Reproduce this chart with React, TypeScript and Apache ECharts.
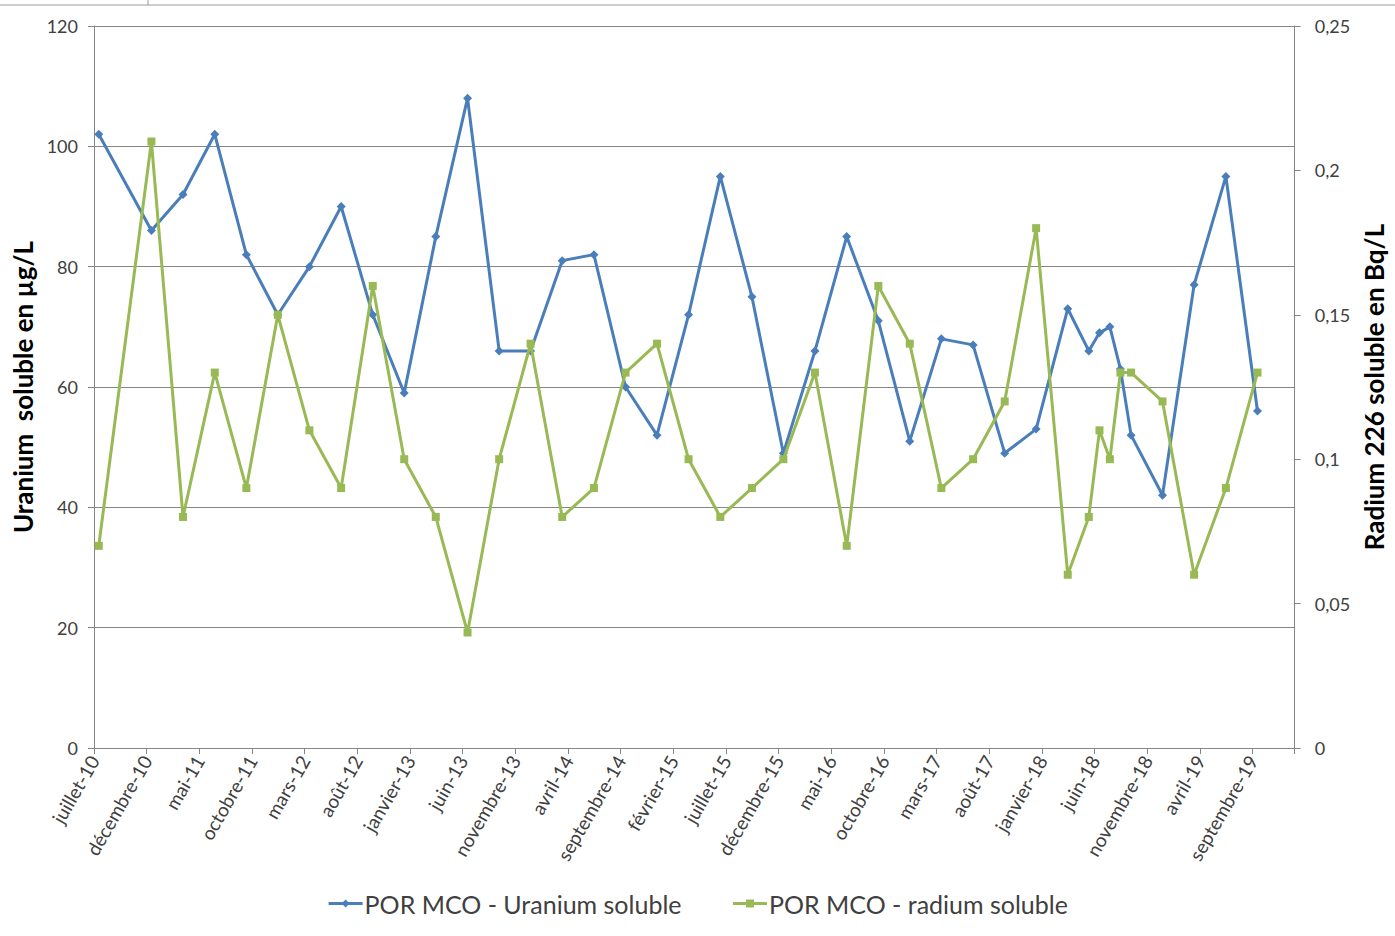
import React, { useEffect, useRef } from "react";
import * as echarts from "echarts";

// Sampling dates (mid-month) for station POR MCO
const sampleDates = [
  "2010-07-15", "2010-12-15", "2011-03-15", "2011-06-15", "2011-09-15",
  "2011-12-15", "2012-03-15", "2012-06-15", "2012-09-15", "2012-12-15",
  "2013-03-15", "2013-06-15", "2013-09-15", "2013-12-15", "2014-03-15",
  "2014-06-15", "2014-09-15", "2014-12-15", "2015-03-15", "2015-06-15",
  "2015-09-15", "2015-12-15", "2016-03-15", "2016-06-15", "2016-09-15",
  "2016-12-15", "2017-03-15", "2017-06-15", "2017-09-15", "2017-12-15",
  "2018-03-15", "2018-05-15", "2018-06-15", "2018-07-15", "2018-08-15",
  "2018-09-15", "2018-12-15", "2019-03-15", "2019-06-15", "2019-09-15",
];

// Soluble uranium, µg/L
const uranium = [
  102, 86, 92, 102, 82, 72, 80, 90, 72, 59,
  85, 108, 66, 66, 81, 82, 60, 52, 72, 95,
  75, 49, 66, 85, 71, 51, 68, 67, 49, 53,
  73, 66, 69, 70, 63, 52, 42, 77, 95, 56,
];

// Soluble radium 226, Bq/L
const radium = [
  0.07, 0.21, 0.08, 0.13, 0.09, 0.15, 0.11, 0.09, 0.16, 0.1,
  0.08, 0.04, 0.1, 0.14, 0.08, 0.09, 0.13, 0.14, 0.1, 0.08,
  0.09, 0.1, 0.13, 0.07, 0.16, 0.14, 0.09, 0.1, 0.12, 0.18,
  0.06, 0.08, 0.11, 0.1, 0.13, 0.13, 0.12, 0.06, 0.09, 0.13,
];

// Date-axis labels, one every five months from July 2010
const xTickLabels = [
  "juillet-10", "décembre-10", "mai-11", "octobre-11", "mars-12",
  "août-12", "janvier-13", "juin-13", "novembre-13", "avril-14",
  "septembre-14", "février-15", "juillet-15", "décembre-15", "mai-16",
  "octobre-16", "mars-17", "août-17", "janvier-18", "juin-18",
  "novembre-18", "avril-19", "septembre-19",
];

const START_YEAR = 2010;
const START_MONTH = 7;
const AXIS_MONTHS = 114; // axis runs to January 2020

// Months elapsed since 1 July 2010 (fractional within the month)
function monthPos(d: string): number {
  const [y, m, day] = d.split("-").map(Number);
  const dim = new Date(y, m, 0).getDate();
  return (y - START_YEAR) * 12 + (m - START_MONTH) + (day - 1) / dim;
}

const FONT = "Lato, 'Open Sans', sans-serif";
const AXIS_GREY = "#868686";
const LABEL_COLOR = "#404040";
const BLUE = "#4A7EBB";
const GREEN = "#98B954";

export default function App() {
  const ref = useRef<HTMLDivElement>(null);

  useEffect(() => {
    if (!ref.current) return;
    const chart = echarts.init(ref.current, undefined, { renderer: "svg" });

    const uraniumData = sampleDates.map((d, i) => [monthPos(d), uranium[i]]);
    const radiumData = sampleDates.map((d, i) => [monthPos(d), radium[i]]);

    const titleStyle = {
      fontFamily: FONT,
      fontSize: 26,
      fontWeight: "bold",
      color: "#000000",
    };

    chart.setOption({
      animation: false,
      backgroundColor: "#ffffff",
      textStyle: { fontFamily: FONT },
      graphic: [
        {
          type: "line",
          shape: { x1: 0, y1: 5, x2: 1395, y2: 5 },
          style: { stroke: "#9a9a9a", lineWidth: 1 },
        },
        {
          type: "line",
          shape: { x1: 148, y1: 0, x2: 148, y2: 5 },
          style: { stroke: "#9a9a9a", lineWidth: 1 },
        },
      ],
      grid: { left: 94, right: 98, top: 26, bottom: 188, containLabel: false },
      legend: {
        bottom: 15,
        left: "center",
        itemWidth: 34,
        itemHeight: 10,
        itemGap: 50,
        lineStyle: { width: 3 },
        textStyle: { fontFamily: FONT, fontSize: 25, color: LABEL_COLOR, padding: [0, 0, 0, -3] },
        data: ["POR MCO - Uranium soluble", "POR MCO - radium soluble"],
      },
      xAxis: {
        type: "value",
        min: 0,
        max: AXIS_MONTHS,
        interval: 5,
        axisLine: { show: true, lineStyle: { color: AXIS_GREY, width: 1 } },
        axisTick: { show: true, length: 6, lineStyle: { color: AXIS_GREY } },
        splitLine: { show: false },
        axisLabel: {
          rotate: 60,
          margin: 9,
          fontFamily: FONT,
          fontSize: 19,
          color: LABEL_COLOR,
          formatter: (v: number) => {
            const idx = Math.round(v / 5);
            if (Math.abs(v - idx * 5) > 1e-6) return "";
            return xTickLabels[idx] ?? "";
          },
        },
      },
      yAxis: [
        {
          type: "value",
          position: "left",
          min: 0,
          max: 120,
          interval: 20,
          name: "Uranium  soluble en µg/L",
          nameLocation: "middle",
          nameRotate: 90,
          nameGap: 54,
          nameTextStyle: titleStyle,
          axisLine: { show: true, lineStyle: { color: AXIS_GREY, width: 1 } },
          axisTick: { show: true, length: 6, lineStyle: { color: AXIS_GREY } },
          splitLine: { show: true, lineStyle: { color: AXIS_GREY, width: 1 } },
          axisLabel: { margin: 16, fontFamily: FONT, fontSize: 18, color: LABEL_COLOR },
        },
        {
          type: "value",
          position: "right",
          min: 0,
          max: 0.25,
          interval: 0.05,
          name: "Radium 226 soluble en Bq/L",
          nameLocation: "middle",
          nameRotate: 90,
          nameGap: 66,
          nameTextStyle: titleStyle,
          axisLine: { show: true, lineStyle: { color: AXIS_GREY, width: 1 } },
          axisTick: { show: true, length: 6, lineStyle: { color: AXIS_GREY } },
          splitLine: { show: false },
          axisLabel: {
            margin: 20,
            fontFamily: FONT,
            fontSize: 18,
            color: LABEL_COLOR,
            formatter: (v: number) => String(Number(v.toFixed(2))).replace(".", ","),
          },
        },
      ],
      series: [
        {
          name: "POR MCO - Uranium soluble",
          type: "line",
          yAxisIndex: 0,
          data: uraniumData,
          symbol: "diamond",
          symbolSize: 9,
          showAllSymbol: true,
          lineStyle: { color: BLUE, width: 3 },
          itemStyle: { color: BLUE },
          z: 2,
        },
        {
          name: "POR MCO - radium soluble",
          type: "line",
          yAxisIndex: 1,
          data: radiumData,
          symbol: "rect",
          symbolSize: 8,
          showAllSymbol: true,
          lineStyle: { color: GREEN, width: 3 },
          itemStyle: { color: GREEN },
          z: 3,
        },
      ],
    });

    return () => chart.dispose();
  }, []);

  return (
    <div
      ref={ref}
      style={{ position: "fixed", left: 0, top: 0, width: 1395, height: 936, background: "#fff" }}
    />
  );
}
